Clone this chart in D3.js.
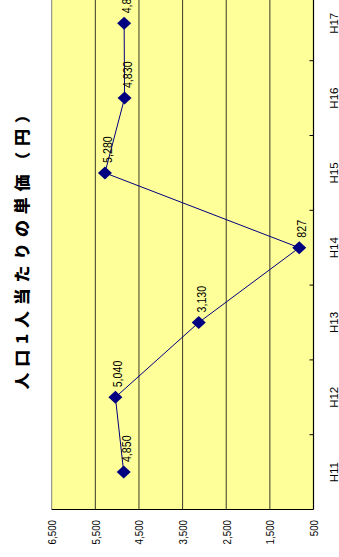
<!DOCTYPE html>
<html><head><meta charset="utf-8">
<script src="https://cdn.jsdelivr.net/npm/d3@7"></script>
<style>html,body{margin:0;padding:0;background:#fff;overflow:hidden}</style>
</head><body>
<script>
const categories = ["H11","H12","H13","H14","H15","H16","H17"];
const values = [4850, 5040, 3130, 827, 5280, 4830, 4840];
const valueTicks = [6500, 5500, 4500, 3500, 2500, 1500, 500];
const title = "人口1人当たりの単価（円）";

const W = 339, H = 557;
const svg = d3.select("body").append("svg").attr("width", W).attr("height", H);

const plot = {left: 51.7, right: 313.5, bottom: 509.5, top: 509.5 - 7*74.8};
const x = d3.scaleLinear().domain([500, 6500]).range([plot.right, plot.left]);
const y = d3.scaleBand().domain(categories).range([plot.bottom, plot.top]);

// plot background
svg.append("rect").attr("x", plot.left).attr("y", plot.top)
  .attr("width", plot.right - plot.left).attr("height", plot.bottom - plot.top)
  .attr("fill", "#FFFF99");

// gridlines
svg.append("g").selectAll("line").data(valueTicks.filter(v => v !== 500 && v !== 6500)).join("line")
  .attr("x1", d => x(d)).attr("x2", d => x(d))
  .attr("y1", plot.top).attr("y2", plot.bottom)
  .attr("stroke", "#3a3a2a").attr("stroke-width", 1);
// left border
svg.append("line").attr("x1", x(6500)).attr("x2", x(6500)).attr("y1", plot.top).attr("y2", plot.bottom)
  .attr("stroke", "#808080").attr("stroke-width", 1);

// value axis (bottom) line
svg.append("line").attr("x1", plot.left).attr("x2", plot.right).attr("y1", plot.bottom).attr("y2", plot.bottom)
  .attr("stroke", "#000").attr("stroke-width", 1.2);
// category axis (right)
svg.append("line").attr("x1", plot.right).attr("x2", plot.right).attr("y1", plot.top).attr("y2", plot.bottom)
  .attr("stroke", "#000").attr("stroke-width", 1.2);
svg.append("g").selectAll("line").data(categories.slice(1)).join("line")
  .attr("x1", plot.right - 4).attr("x2", plot.right)
  .attr("y1", d => y(d) + y.bandwidth()).attr("y2", d => y(d) + y.bandwidth())
  .attr("stroke", "#000").attr("stroke-width", 1);

// value tick labels
const fmt = d3.format(",");
svg.append("g").selectAll("text").data(valueTicks).join("text")
  .attr("transform", d => `translate(${x(d) + 4.5},520) rotate(-90) scale(0.85,1)`)
  .attr("text-anchor", "end")
  .attr("font-family", "Liberation Sans, Arial, sans-serif").attr("font-size", 11.5)
  .attr("fill", "#000").text(d => fmt(d));

// category labels
svg.append("g").selectAll("text").data(categories).join("text")
  .attr("transform", d => `translate(338,${y(d) + y.bandwidth()/2}) rotate(-90)`)
  .attr("text-anchor", "middle")
  .attr("font-family", "Liberation Sans, Arial, sans-serif").attr("font-size", 11.5)
  .attr("fill", "#000").text(d => d);

// line
const pts = categories.map((c, i) => [x(values[i]), y(c) + y.bandwidth()/2]);
svg.append("path").attr("d", d3.line()(pts)).attr("fill", "none")
  .attr("stroke", "#000080").attr("stroke-width", 1);

// markers
svg.append("g").selectAll("path").data(pts).join("path")
  .attr("transform", d => `translate(${d[0]},${d[1]})`)
  .attr("d", "M0,-6.5L7,0L0,6.5L-7,0Z").attr("fill", "#000080");

// data labels
svg.append("g").selectAll("text").data(pts).join("text")
  .attr("transform", (d, i) => `translate(${d[0] + 7},${d[1] - 10}) rotate(-90) scale(0.82,1)`)
  .attr("text-anchor", "start")
  .attr("font-family", "Liberation Sans, Arial, sans-serif").attr("font-size", 13)
  .attr("fill", "#000").text((d, i) => fmt(values[i]));

// title
svg.append("text")
  .attr("transform", `translate(21,245) rotate(-90) scale(1.1,1)`)
  .attr("text-anchor", "middle").attr("dominant-baseline", "central")
  .attr("font-family", "Noto Sans CJK JP, sans-serif").attr("font-weight", "900")
  .attr("font-size", 15.5).attr("letter-spacing", 5.2)
  .attr("fill", "#000").text(title);
</script>
</body></html>
